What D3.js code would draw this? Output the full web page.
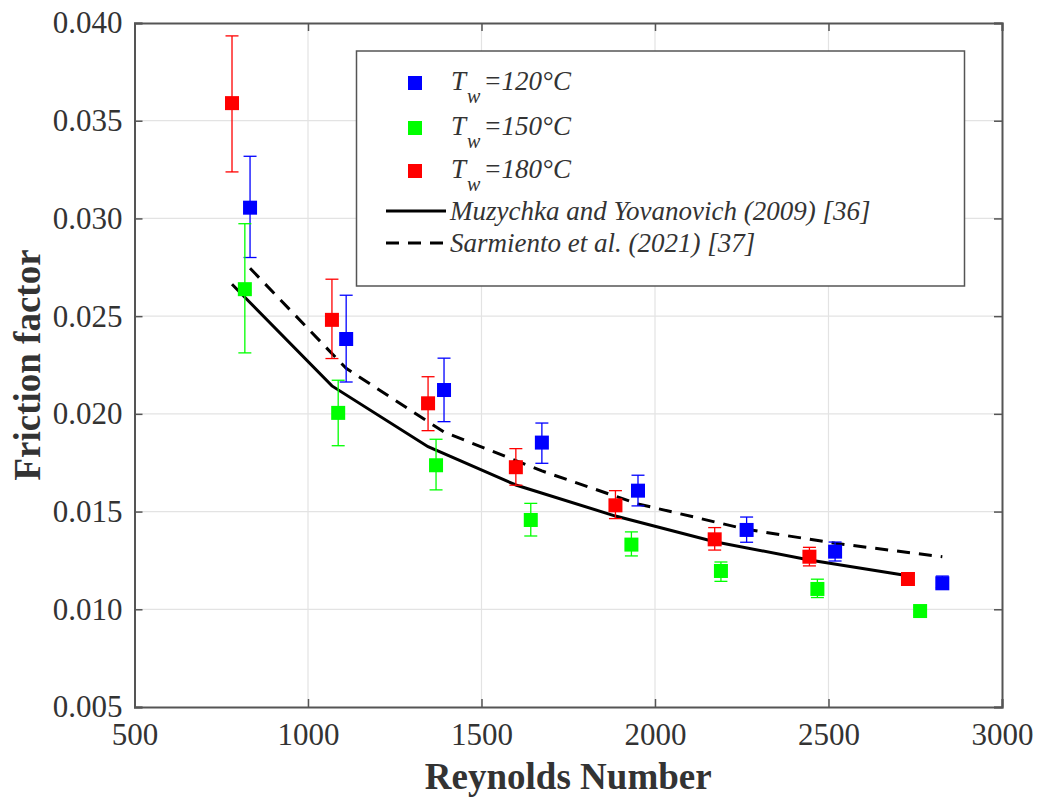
<!DOCTYPE html>
<html>
<head>
<meta charset="utf-8">
<script src="https://cdn.jsdelivr.net/npm/d3@7"></script>
<style>
  body { margin: 0; background: #fff; }
  text { font-family: "Liberation Serif", "Times New Roman", serif; }
</style>
</head>
<body>
<svg id="chart"></svg>
<script>
// series: Tw = 120 C (blue)
var re120 = [833, 1110, 1392, 1674, 1951, 2264, 2519, 2828];
var f120 = [0.03055, 0.02383, 0.02122, 0.01853, 0.01607, 0.01406, 0.01295, 0.01133];
var hi120 = [0.03318, 0.02607, 0.02285, 0.01953, 0.01686, 0.01472, 0.01344, 0.0117];
var lo120 = [0.0280, 0.02163, 0.0196, 0.01747, 0.01529, 0.01343, 0.01247, 0.0111];

// series: Tw = 150 C (green)
var re150 = [818, 1087, 1369, 1642, 1932, 2190, 2468, 2764];
var f150 = [0.02638, 0.02005, 0.01737, 0.01457, 0.01331, 0.01196, 0.01104, 0.00991];
var hi150 = [0.02973, 0.02172, 0.0187, 0.01542, 0.01396, 0.01242, 0.01154, 0.0101];
var lo150 = [0.02312, 0.01837, 0.01611, 0.01375, 0.01273, 0.01143, 0.0106, 0.0097];

// series: Tw = 180 C (red)
var re180 = [781, 1069, 1346, 1599, 1886, 2172, 2445, 2729];
var f180 = [0.0359, 0.02481, 0.02054, 0.01727, 0.01532, 0.01358, 0.01269, 0.01155];
var hi180 = [0.03934, 0.02689, 0.0219, 0.01822, 0.01607, 0.01418, 0.01317, 0.0118];
var lo180 = [0.03238, 0.02283, 0.01914, 0.01635, 0.01464, 0.01303, 0.01222, 0.0113];

// correlations
var muzRe = [781, 1069, 1346, 1599, 1886, 2172, 2445, 2729];
var muzF = [0.02663, 0.02143, 0.01832, 0.01636, 0.01477, 0.01346, 0.01252, 0.01172];
var sarRe = [833, 1110, 1392, 1674, 1951, 2264, 2519, 2828];
var sarF = [0.02745, 0.02233, 0.01907, 0.01708, 0.01539, 0.01409, 0.01338, 0.01269];

var xTicks = [500, 1000, 1500, 2000, 2500, 3000];
var yTicks = [0.005, 0.010, 0.015, 0.020, 0.025, 0.030, 0.035, 0.040];

var width = 1041, height = 799;
var mLeft = 134.5, mRight = 1002, mTop = 23, mBottom = 707;

var svg = d3.select("#chart").attr("width", width).attr("height", height);

var x = d3.scaleLinear().domain([500, 3000]).range([mLeft, mRight]);
var y = d3.scaleLinear().domain([0.005, 0.040]).range([mBottom, mTop]);

// grid
svg.append("g").selectAll("line").data(xTicks.slice(1, -1)).enter().append("line")
  .attr("x1", d => x(d)).attr("x2", d => x(d)).attr("y1", mTop).attr("y2", mBottom)
  .attr("stroke", "#e3e3e3").attr("stroke-width", 1.2);
svg.append("g").selectAll("line").data(yTicks.slice(1, -1)).enter().append("line")
  .attr("y1", d => y(d)).attr("y2", d => y(d)).attr("x1", mLeft).attr("x2", mRight)
  .attr("stroke", "#e3e3e3").attr("stroke-width", 1.2);

// axes (ticks inward, box on)
var axisColor = "#555";
var xb = svg.append("g").attr("transform", `translate(0,${mBottom})`)
  .call(d3.axisBottom(x).tickValues(xTicks).tickSize(-8).tickPadding(16).tickFormat(d3.format("d")));
var xt = svg.append("g").attr("transform", `translate(0,${mTop})`)
  .call(d3.axisTop(x).tickValues(xTicks).tickSize(-8).tickFormat(""));
var yl = svg.append("g").attr("transform", `translate(${mLeft},0)`)
  .call(d3.axisLeft(y).tickValues(yTicks).tickSize(-8).tickPadding(12).tickFormat(d3.format(".3f")));
var yr = svg.append("g").attr("transform", `translate(${mRight},0)`)
  .call(d3.axisRight(y).tickValues(yTicks).tickSize(-8).tickFormat(""));

[xb, xt, yl, yr].forEach(function(g) {
  g.select(".domain").attr("stroke", axisColor).attr("stroke-width", 2);
  g.selectAll(".tick line").attr("stroke", axisColor).attr("stroke-width", 1.5);
  g.selectAll(".tick text").attr("fill", "#333").style("font-size", "31px")
    .style("font-family", "Liberation Serif");
});
xb.selectAll(".tick text").attr("dy", "0.71em");

// axis titles
svg.append("text").attr("x", (mLeft + mRight) / 2).attr("y", 789)
  .attr("text-anchor", "middle").attr("fill", "#333")
  .style("font-size", "37px").style("font-weight", "bold")
  .text("Reynolds Number");
svg.append("text").attr("transform", `translate(40,${(mTop + mBottom) / 2}) rotate(-90)`)
  .attr("text-anchor", "middle").attr("fill", "#333")
  .style("font-size", "37px").style("font-weight", "bold")
  .text("Friction factor");

// correlation lines
var line = d3.line().x(d => x(d[0])).y(d => y(d[1]));
svg.append("path").datum(d3.zip(muzRe, muzF)).attr("d", line)
  .attr("fill", "none").attr("stroke", "#000").attr("stroke-width", 3);
svg.append("path").datum(d3.zip(sarRe, sarF)).attr("d", line)
  .attr("fill", "none").attr("stroke", "#000").attr("stroke-width", 3)
  .attr("stroke-dasharray", "13,9");

// data with error bars
var series = [
  { re: re120, f: f120, hi: hi120, lo: lo120, color: "#0000ff" },
  { re: re150, f: f150, hi: hi150, lo: lo150, color: "#00ff00" },
  { re: re180, f: f180, hi: hi180, lo: lo180, color: "#ff0000" }
];
var capW = 6.5, mSize = 14;

series.forEach(function(s) {
  var rows = s.re.map((r, i) => ({ re: r, f: s.f[i], hi: s.hi[i], lo: s.lo[i] }));
  var g = svg.append("g");
  var eb = g.selectAll("g.err").data(rows).enter().append("g").attr("class", "err")
    .attr("stroke", s.color).attr("stroke-width", 1.3);
  eb.append("line").attr("x1", d => x(d.re)).attr("x2", d => x(d.re))
    .attr("y1", d => y(d.hi)).attr("y2", d => y(d.lo));
  eb.append("line").attr("x1", d => x(d.re) - capW).attr("x2", d => x(d.re) + capW)
    .attr("y1", d => y(d.hi)).attr("y2", d => y(d.hi));
  eb.append("line").attr("x1", d => x(d.re) - capW).attr("x2", d => x(d.re) + capW)
    .attr("y1", d => y(d.lo)).attr("y2", d => y(d.lo));
  g.selectAll("rect").data(rows).enter().append("rect")
    .attr("x", d => x(d.re) - mSize / 2).attr("y", d => y(d.f) - mSize / 2)
    .attr("width", mSize).attr("height", mSize).attr("fill", s.color);
});

// legend
var lg = svg.append("g");
lg.append("rect").attr("x", 356.5).attr("y", 51).attr("width", 608).attr("height", 235)
  .attr("fill", "#fff").attr("stroke", axisColor).attr("stroke-width", 1.5);

var legTemps = ["120", "150", "180"];
var legColors = ["#0000ff", "#00ff00", "#ff0000"];
var legY = [83, 128, 171];
legTemps.forEach(function(t, i) {
  lg.append("rect").attr("x", 415 - 7).attr("y", legY[i] - 7).attr("width", 14).attr("height", 14)
    .attr("fill", legColors[i]);
  var tx = lg.append("text").attr("x", 451).attr("y", legY[i] + 7)
    .attr("fill", "#333").style("font-size", "27px").style("font-style", "italic");
  tx.append("tspan").text("T");
  tx.append("tspan").attr("dy", 13).attr("dx", 1).style("font-size", "20px").text("w");
  tx.append("tspan").attr("dy", -13).attr("dx", 3).text("=" + t + "°C");
});

var legLines = [
  { label: "Muzychka and Yovanovich (2009) [36]", dash: null, y: 211 },
  { label: "Sarmiento et al. (2021) [37]", dash: "13,9", y: 243 }
];
legLines.forEach(function(l) {
  lg.append("line").attr("x1", 386).attr("x2", 446).attr("y1", l.y).attr("y2", l.y)
    .attr("stroke", "#000").attr("stroke-width", 3).attr("stroke-dasharray", l.dash);
  lg.append("text").attr("x", 450).attr("y", l.y + 9).attr("fill", "#333")
    .style("font-size", "27px").style("font-style", "italic").text(l.label);
});
</script>
</body>
</html>
